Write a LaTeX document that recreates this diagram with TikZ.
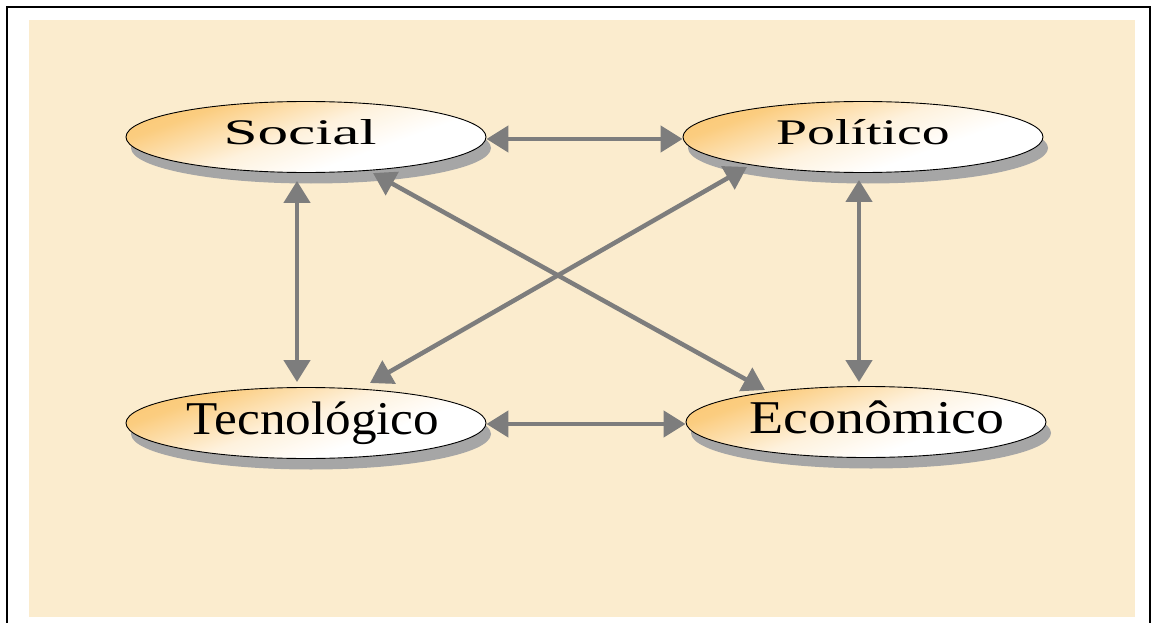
\documentclass[tikz,border=0pt]{standalone}
\usepackage{fontspec}
\setmainfont{Liberation Serif}
\usepackage{graphicx}
\usetikzlibrary{arrows.meta,shapes.geometric,shadows}
\definecolor{bg}{RGB}{251,236,206}
\definecolor{ellor}{RGB}{250,188,85}
\definecolor{shad}{RGB}{166,166,166}
\definecolor{arr}{RGB}{125,125,125}
\pgfdeclarehorizontalshading{ellshade}{100bp}{color(0bp)=(ellor); color(30bp)=(ellor!75!white); color(48bp)=(ellor!20!white); color(62bp)=(white); color(100bp)=(white)}
\tikzset{
 ell/.style={ellipse, draw=black, line width=0.9pt, shading=ellshade, shading angle=-70,
   minimum width=360pt, minimum height=71pt, inner xsep=-90pt, inner ysep=0pt,
   general shadow={fill=shad, draw=none, shadow xshift=5pt, shadow yshift=-11pt}},
 smalltxt/.style={font=\fontsize{36}{40}\selectfont, text height=24pt, text depth=8pt},
 bigtxt/.style={font=\fontsize{47}{52}\selectfont, text height=31pt, text depth=9pt},
 link/.style={draw=arr, line width=4.5pt, {Triangle[length=22pt,width=26pt]}-{Triangle[length=22pt,width=26pt]}}
}
\begin{document}
\begin{tikzpicture}[x=1pt,y=-1pt]
\useasboundingbox (0,0) rectangle (1154,623);
\fill[white] (0,0) rectangle (1154,623);
\fill[bg] (29,20) rectangle (1135,617);
\draw[line width=2pt] (7,640) -- (7,7) -- (1150,7) -- (1150,640);
\node[ell, smalltxt] (soc) at (306,137) {\kern-12pt\scalebox{1.7}[1]{Social}};
\node[ell, smalltxt] (pol) at (863,137) {\scalebox{1.55}[1]{Político}};
\node[ell, bigtxt] (tec) at (306,423) {\kern14pt\scalebox{1.09}[1]{Tecnológico}};
\node[ell, bigtxt] (eco) at (866,422) {\kern22pt\scalebox{1.19}[1]{Econômico}};
\draw[link] ([yshift=-2pt]soc.east) -- ([yshift=-2pt]soc.east -| pol.west);
\draw[link] ([yshift=-1pt]tec.east) -- ([yshift=-1pt]tec.east -| eco.west);
\draw[link] ([xshift=-9pt,yshift=-8pt]soc.south) -- ([xshift=-9pt,yshift=5pt]tec.north);
\draw[link] ([xshift=-4pt,yshift=-7pt]pol.south) -- ([xshift=-7pt,yshift=4pt]eco.north);
\draw[link] ([xshift=67pt,yshift=-36pt]soc.center) -- ([xshift=-101pt,yshift=32pt]eco.center);
\draw[link] ([xshift=-116pt,yshift=-30pt]pol.center) -- ([xshift=64pt,yshift=40pt]tec.center);
\end{tikzpicture}
\end{document}
